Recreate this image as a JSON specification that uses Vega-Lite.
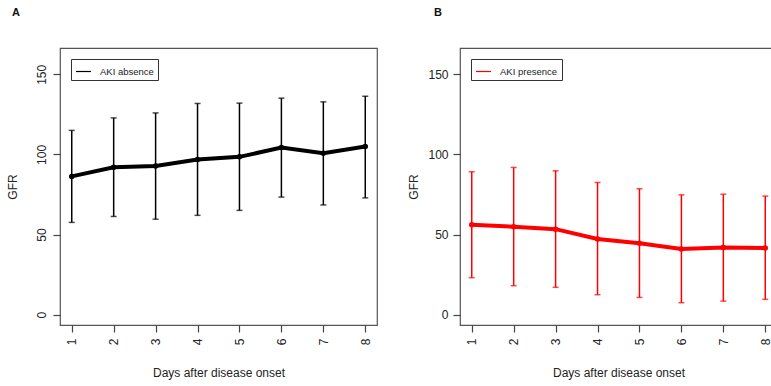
{
  "$schema": "https://vega.github.io/schema/vega-lite/v6.json",
  "background": "white",
  "padding": {"left": 5, "top": 6, "right": 0, "bottom": 0},
  "datasets": {
    "gfr": [
      {"group": "AKI absence", "day": 1, "mean": 86.3, "lo": 57.6, "hi": 115.0},
      {"group": "AKI absence", "day": 2, "mean": 92.0, "lo": 61.3, "hi": 122.8},
      {"group": "AKI absence", "day": 3, "mean": 92.8, "lo": 59.6, "hi": 125.9},
      {"group": "AKI absence", "day": 4, "mean": 96.9, "lo": 62.0, "hi": 131.8},
      {"group": "AKI absence", "day": 5, "mean": 98.5, "lo": 65.1, "hi": 132.0},
      {"group": "AKI absence", "day": 6, "mean": 104.3, "lo": 73.4, "hi": 135.1},
      {"group": "AKI absence", "day": 7, "mean": 100.7, "lo": 68.5, "hi": 132.8},
      {"group": "AKI absence", "day": 8, "mean": 105.0, "lo": 72.9, "hi": 136.3},
      {"group": "AKI presence", "day": 1, "mean": 56.1, "lo": 23.1, "hi": 89.2},
      {"group": "AKI presence", "day": 2, "mean": 54.9, "lo": 18.1, "hi": 91.9},
      {"group": "AKI presence", "day": 3, "mean": 53.4, "lo": 17.1, "hi": 89.8},
      {"group": "AKI presence", "day": 4, "mean": 47.3, "lo": 12.5, "hi": 82.5},
      {"group": "AKI presence", "day": 5, "mean": 44.6, "lo": 10.8, "hi": 78.6},
      {"group": "AKI presence", "day": 6, "mean": 41.0, "lo": 7.5, "hi": 74.8},
      {"group": "AKI presence", "day": 7, "mean": 42.0, "lo": 8.5, "hi": 75.2},
      {"group": "AKI presence", "day": 8, "mean": 41.7, "lo": 9.6, "hi": 74.0}
    ]
  },
  "config": {
    "font": "Liberation Sans",
    "view": {"stroke": "#555", "strokeWidth": 1.2},
    "axis": {
      "grid": false, "domain": false, "tickColor": "#444", "tickSize": 7, "tickWidth": 1.2,
      "labelFontSize": 12, "labelColor": "#222", "titleFontSize": 12,
      "titleFontWeight": "normal", "titleColor": "#222"
    },
    "legend": {
      "orient": "top-left", "offset": 11, "strokeColor": "#333", "padding": 4,
      "fillColor": "white", "labelFontSize": 9.5, "labelColor": "#222",
      "symbolType": "stroke", "symbolStrokeWidth": 1.2, "symbolSize": 225, "labelOffset": 8
    },
    "title": {"anchor": "start", "frame": "group", "fontSize": 11, "fontWeight": "bold", "color": "#111", "offset": 30}
  },
  "spacing": 29,
  "resolve": {"scale": {"color": "independent"}, "legend": {"color": "independent"}},
  "hconcat": [
    {
      "width": 317, "height": 277,
      "title": {"text": "A", "dx": -48},
      "data": {"name": "gfr"},
      "transform": [{"filter": "datum.group === 'AKI absence'"}],
      "encoding": {
        "x": {
          "field": "day", "type": "quantitative",
          "scale": {"domain": [0.72, 8.28], "nice": false, "zero": false},
          "axis": {"values": [1, 2, 3, 4, 5, 6, 7, 8], "labelAngle": -90, "labelAlign": "right", "labelBaseline": "middle", "labelPadding": 6, "title": "Days after disease onset", "titlePadding": 23}
        }
      },
      "layer": [
        {
          "mark": {"type": "errorbar", "ticks": {"size": 6, "thickness": 1.5, "color": "black"}, "rule": {"strokeWidth": 1.5, "color": "black"}},
          "encoding": {
            "y": {"field": "lo", "type": "quantitative", "title": "GFR",
              "scale": {"domain": [-6.4, 166.4], "nice": false, "zero": false},
              "axis": {"values": [0, 50, 100, 150], "labelAngle": -90, "labelAlign": "center", "labelBaseline": "bottom", "labelPadding": 5, "titlePadding": 16}},
            "y2": {"field": "hi"}
          }
        },
        {
          "mark": {"type": "line", "strokeWidth": 4},
          "encoding": {
            "y": {"field": "mean", "type": "quantitative", "title": "GFR"},
            "color": {"field": "group", "type": "nominal", "scale": {"range": ["black"]}, "legend": {"title": null}}
          }
        },
        {
          "mark": {"type": "point", "filled": true, "size": 30, "color": "black", "opacity": 1},
          "encoding": {"y": {"field": "mean", "type": "quantitative", "title": "GFR"}}
        }
      ]
    },
    {
      "width": 317, "height": 277,
      "title": {"text": "B", "dx": -26},
      "data": {"name": "gfr"},
      "transform": [{"filter": "datum.group === 'AKI presence'"}],
      "encoding": {
        "x": {
          "field": "day", "type": "quantitative",
          "scale": {"domain": [0.72, 8.28], "nice": false, "zero": false},
          "axis": {"values": [1, 2, 3, 4, 5, 6, 7, 8], "labelAngle": -90, "labelAlign": "right", "labelBaseline": "middle", "labelPadding": 6, "title": "Days after disease onset", "titlePadding": 23}
        }
      },
      "layer": [
        {
          "mark": {"type": "errorbar", "ticks": {"size": 6, "thickness": 1.5, "color": "red"}, "rule": {"strokeWidth": 1.5, "color": "red"}},
          "encoding": {
            "y": {"field": "lo", "type": "quantitative", "title": "GFR",
              "scale": {"domain": [-6.4, 166.4], "nice": false, "zero": false},
              "axis": {"values": [0, 50, 100, 150], "labelAngle": 0, "labelPadding": 5, "titlePadding": 7}},
            "y2": {"field": "hi"}
          }
        },
        {
          "mark": {"type": "line", "strokeWidth": 4},
          "encoding": {
            "y": {"field": "mean", "type": "quantitative", "title": "GFR"},
            "color": {"field": "group", "type": "nominal", "scale": {"range": ["red"]}, "legend": {"title": null}}
          }
        },
        {
          "mark": {"type": "point", "filled": true, "size": 30, "color": "red", "opacity": 1},
          "encoding": {"y": {"field": "mean", "type": "quantitative", "title": "GFR"}}
        }
      ]
    }
  ]
}
